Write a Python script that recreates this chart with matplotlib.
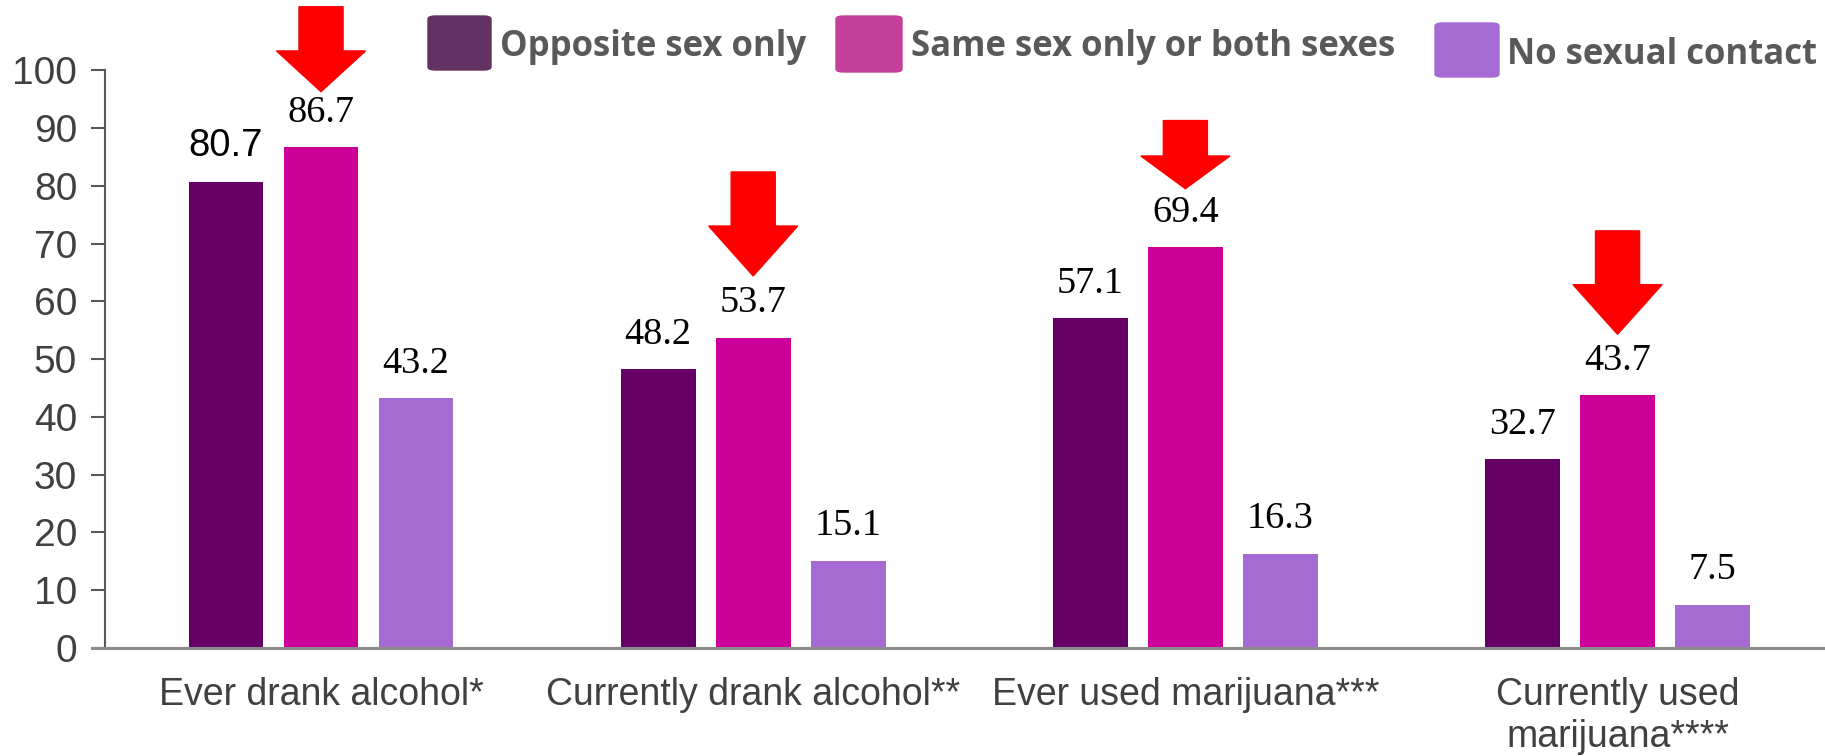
import numpy as np
import matplotlib
matplotlib.use("Agg")
import matplotlib.pyplot as plt
from matplotlib.patches import Polygon, FancyBboxPatch

# data
categories = ["Ever drank alcohol*", "Currently drank alcohol**",
              "Ever used marijuana***", "Currently used\nmarijuana****"]
opposite_sex = [80.7, 48.2, 57.1, 32.7]
same_sex = [86.7, 53.7, 69.4, 43.7]
no_contact = [43.2, 15.1, 16.3, 7.5]
series_names = ["Opposite sex only", "Same sex only or both sexes", "No sexual contact"]
yticks = [0, 10, 20, 30, 40, 50, 60, 70, 80, 90, 100]
arrow_gap = [9.6, 10.7, 10.1, 10.6]    # red arrows over the same-sex bars
arrow_len = [14.7, 18.0, 11.8, 17.9]

bar_colors = ["#660066", "#CC0099", "#A66BD3"]
legend_colors = ["#633162", "#C5409A", "#A66BD3"]

fig = plt.figure(figsize=(18.25, 7.56), dpi=100)
ax = fig.add_axes([0.0575, 0.143, 0.9425, 0.764])

x = np.arange(len(categories))
w = 0.173
off = 0.22
all_series = [opposite_sex, same_sex, no_contact]
for k, vals in enumerate(all_series):
    ax.bar(x + (k - 1) * off, vals, width=w, color=bar_colors[k], zorder=2)
    for i, v in enumerate(vals):
        fam = "Liberation Sans" if (k == 0 and i == 0) else "Liberation Serif"
        ax.text(x[i] + (k - 1) * off, v + 3.0, f"{v}", ha="center", va="bottom",
                fontsize=27.5, family=fam, color="black")

# red block arrows
for i, v in enumerate(same_sex):
    cx = x[i]
    tip = v + arrow_gap[i]
    top = tip + arrow_len[i]
    head = tip + arrow_len[i] * 0.48
    hw, sw = 0.103, 0.051
    pts = [(cx - sw, top), (cx + sw, top), (cx + sw, head), (cx + hw, head),
           (cx, tip), (cx - hw, head), (cx - sw, head)]
    ax.add_patch(Polygon(pts, closed=True, color="#FF0000", clip_on=False, zorder=3))

ax.set_xlim(-0.5, 3.48)
ax.set_ylim(0, 100)
ax.set_yticks(yticks)
ax.set_xticks(x)
ax.set_xticklabels(categories, fontsize=27, family="Liberation Sans", color="#404040",
                   linespacing=1.22)
ax.tick_params(axis="x", length=0, pad=21)
ax.tick_params(axis="y", length=10, width=1.5, color="#595959", labelsize=28,
               labelcolor="#404040", pad=10)
for lab in ax.get_yticklabels():
    lab.set_family("Liberation Sans")

for s in ["top", "right"]:
    ax.spines[s].set_visible(False)
ax.spines["left"].set_color("#595959")
ax.spines["left"].set_linewidth(1.5)
ax.spines["bottom"].set_color("#8C8C8C")
ax.spines["bottom"].set_linewidth(2.2)
ax.spines["bottom"].set_bounds(-0.53, 3.48)

# legend drawn by hand (items are not aligned in the original)
W, H = 1825.0, 756.0
legend_items = [(428, 16, 63, 54, 500, 47),
                (836, 16, 66, 56, 911, 47),
                (1435, 23, 64, 54, 1507, 55)]
for k, (lx, ly, lw, lh, tx, ty) in enumerate(legend_items):
    p = FancyBboxPatch((lx / W, 1 - (ly + lh) / H), lw / W, lh / H,
                       boxstyle="round,pad=0,rounding_size=0.004",
                       transform=fig.transFigure, color=legend_colors[k],
                       clip_on=False)
    fig.patches.append(p)
    fig.text(tx / W, 1 - ty / H, series_names[k], ha="left", va="center",
             fontsize=25, fontweight="bold", family="Open Sans", color="#595959")

fig.savefig("out.png", dpi=100)
